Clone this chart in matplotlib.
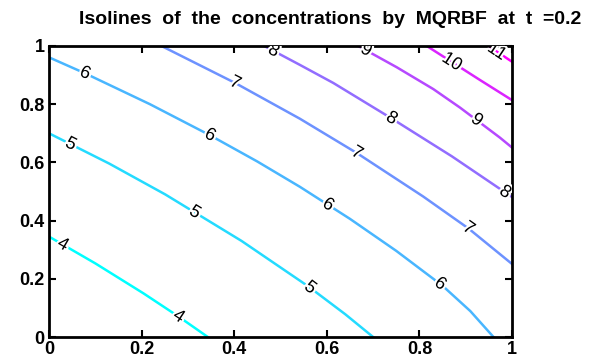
import numpy as np
import matplotlib.pyplot as plt
import matplotlib.patheffects as pe

# isolines: level -> points along the line
levels = [4, 5, 6, 7, 8, 9, 10, 11]
iso_x = {
    4: [0.0, 0.10, 0.204, 0.28, 0.343],
    5: [0.0, 0.13, 0.251, 0.416, 0.56, 0.64, 0.70],
    6: [0.0, 0.078, 0.218, 0.348, 0.45, 0.542, 0.65, 0.75, 0.85, 0.91, 0.96],
    7: [0.243, 0.402, 0.542, 0.665, 0.808, 0.906, 1.0],
    8: [0.465, 0.542, 0.614, 0.740, 0.87, 1.0],
    9: [0.668, 0.751, 0.830, 0.888, 0.974, 1.0],
    10: [0.816, 0.870, 0.931, 1.0],
    11: [0.949, 1.0],
}
iso_y = {
    4: [0.345, 0.253, 0.150, 0.070, 0.0],
    5: [0.700, 0.596, 0.490, 0.330, 0.174, 0.078, 0.0],
    6: [0.961, 0.906, 0.800, 0.693, 0.603, 0.516, 0.406, 0.296, 0.176, 0.089, 0.0],
    7: [1.0, 0.873, 0.750, 0.632, 0.483, 0.373, 0.251],
    8: [1.0, 0.935, 0.873, 0.751, 0.621, 0.481],
    9: [1.0, 0.927, 0.852, 0.788, 0.685, 0.651],
    10: [1.0, 0.945, 0.883, 0.814],
    11: [1.0, 0.946],
}
# where the inline labels sit (x along each line)
label_x = {
    4: [0.03, 0.28],
    5: [0.047, 0.315, 0.564],
    6: [0.078, 0.348, 0.603, 0.845],
    7: [0.402, 0.665, 0.906],
    8: [0.485, 0.740, 0.985],
    9: [0.685, 0.924],
    10: [0.870],
    11: [0.967],
}
ticks = [0, 0.2, 0.4, 0.6, 0.8, 1.0]
tick_labels = ["0", "0.2", "0.4", "0.6", "0.8", "1"]

plt.rcParams['font.family'] = ['Liberation Sans', 'DejaVu Sans']

fig = plt.figure(figsize=(5.97, 3.64), dpi=100)
ax = fig.add_axes([49 / 597, 27 / 364, 463 / 597, 291 / 364])
ax.set_xlim(0, 1)
ax.set_ylim(0, 1)

cmap = plt.get_cmap('cool')
for lv in levels:
    c = cmap((lv - levels[0]) / (levels[-1] - levels[0]))
    ax.plot(iso_x[lv], iso_y[lv], color=c, lw=1.8, solid_joinstyle='round')

fig.canvas.draw()
for lv in levels:
    xs = np.array(iso_x[lv])
    ys = np.array(iso_y[lv])
    pts = ax.transData.transform(np.column_stack([xs, ys]))
    for lx in label_x[lv]:
        ly = np.interp(lx, xs, ys)
        i = min(max(np.searchsorted(xs, lx), 1), len(xs) - 1)
        dx, dy = pts[i] - pts[i - 1]
        ang = np.degrees(np.arctan2(dy, dx))
        ax.text(lx, ly, str(lv), fontsize=13, rotation=ang, rotation_mode='anchor',
                ha='center', va='center', clip_on=True,
                path_effects=[pe.withStroke(linewidth=3, foreground='white')])

ax.set_xticks(ticks)
ax.set_xticklabels(tick_labels)
ax.set_yticks(ticks)
ax.set_yticklabels(tick_labels)
ax.tick_params(direction='in', length=5, width=1.5, top=True, right=True,
               labelsize=13, pad=3)
for lab in ax.get_xticklabels() + ax.get_yticklabels():
    lab.set_fontweight('bold')
for s in ax.spines.values():
    s.set_linewidth(2)

fig.text(330 / 597, 1 - 20 / 364, "Isolines  of  the  concentrations  by  MQRBF  at  t  =0.2",
         ha='center', va='center', fontsize=14, fontweight='bold')

fig.savefig('out.png', dpi=100)
